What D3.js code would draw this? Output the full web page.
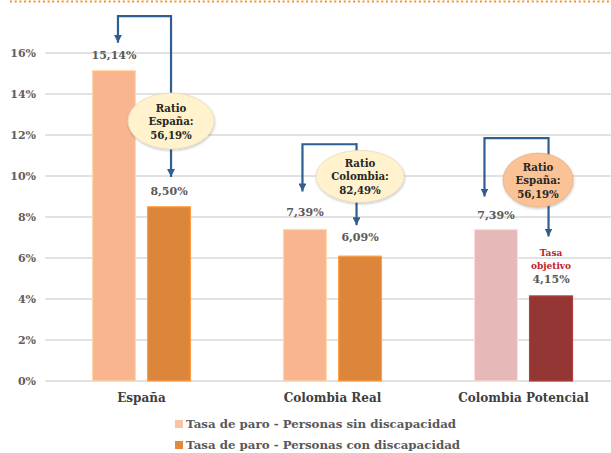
<!DOCTYPE html>
<html>
<head>
<meta charset="utf-8">
<script src="https://cdn.jsdelivr.net/npm/d3@7"></script>
<style>
  html, body { margin: 0; padding: 0; background: #fff; }
  svg { display: block; }
  svg text { font-family: "DejaVu Serif", serif; font-weight: bold; }
</style>
</head>
<body>
<svg id="chart" width="611" height="453"></svg>
<script>
// Unemployment rates, people without / with disability (%)
const categories = ["España", "Colombia Real", "Colombia Potencial"];
const sinDiscapacidad = [15.14, 7.39, 7.39];
const conDiscapacidad = [8.50, 6.09, 4.15];
const yTicks = [0, 2, 4, 6, 8, 10, 12, 14, 16];
const seriesNames = ["Tasa de paro - Personas sin discapacidad", "Tasa de paro - Personas con discapacidad"];
const colorSin = ["#F8B590", "#F8B590", "#E6B8B8"];
const colorCon = ["#DC863C", "#DC863C", "#943634"];
const legendColors = ["#F9C4A4", "#E08A3E"];
// Ratio callouts: text lines, bubble fill
const ratioLines = [["Ratio", "España:", "56,19%"], ["Ratio", "Colombia:", "82,49%"], ["Ratio", "España:", "56,19%"]];
const ratioFill = ["#FFF2CC", "#FFF2CC", "#FAC295"];
const targetLabel = ["Tasa", "objetivo"];

const fmt = v => v.toFixed(2).replace(".", ",") + "%";

const svg = d3.select("#chart");
const y = d3.scaleLinear().domain([0, 16]).range([381, 53]);
const x0 = d3.scaleBand().domain(categories).range([46, 619]);
const x1 = d3.scaleBand().domain(["sin", "con"]).range([0, 98]).paddingInner(0.22);
const groupLeft = c => x0(c) + x0.bandwidth() / 2 - 49;
const barCenter = (c, k) => groupLeft(c) + x1(k) + x1.bandwidth() / 2;

// dotted orange rule at the top
svg.append("line")
  .attr("x1", 10).attr("x2", 611).attr("y1", 1.5).attr("y2", 1.5)
  .attr("stroke", "#F39325").attr("stroke-width", 2.2)
  .attr("stroke-dasharray", "2,2.7");

// gridlines
svg.append("g").selectAll("line").data(yTicks).join("line")
  .attr("x1", 45).attr("x2", 611)
  .attr("y1", d => y(d)).attr("y2", d => y(d))
  .attr("stroke", "#D9D9D9").attr("stroke-width", 1.3);

// y axis labels
const yAxis = svg.append("g").attr("transform", "translate(36,0)")
  .call(d3.axisLeft(y).tickValues(yTicks).tickFormat(d => d + "%").tickSize(0).tickPadding(0));
yAxis.attr("font-family", null);
yAxis.select(".domain").remove();
yAxis.selectAll("text")
  .attr("font-size", 11).attr("fill", "#5F5F5F");

// bars
const rows = categories.map((c, i) => ({ c, i, sin: sinDiscapacidad[i], con: conDiscapacidad[i] }));
const bars = svg.append("g");
rows.forEach(r => {
  [["sin", r.sin, colorSin[r.i]], ["con", r.con, colorCon[r.i]]].forEach(([k, v, col]) => {
    bars.append("rect")
      .attr("x", groupLeft(r.c) + x1(k))
      .attr("width", x1.bandwidth())
      .attr("y", y(v))
      .attr("height", y(0) - y(v))
      .attr("fill", col)
      .attr("stroke", d3.color(col).brighter(0.5))
      .attr("stroke-width", 1.2);
  });
});

// value labels
const labels = svg.append("g")
  .attr("font-size", 11).attr("fill", "#595959")
  .attr("text-anchor", "middle");
const labelGap = [[12, 12], [14, 15], [11, 13]];
rows.forEach(r => {
  labels.append("text").attr("x", barCenter(r.c, "sin")).attr("y", y(r.sin) - labelGap[r.i][0]).text(fmt(r.sin));
  labels.append("text").attr("x", barCenter(r.c, "con")).attr("y", y(r.con) - labelGap[r.i][1]).text(fmt(r.con));
});

// "Tasa objetivo" note over the target bar
const tc = categories[2];
svg.append("g").attr("font-size", 9).attr("fill", "#C0202A")
  .attr("text-anchor", "middle")
  .selectAll("text").data(targetLabel).join("text")
  .attr("x", barCenter(tc, "con")).attr("y", (d, i) => 256 + i * 13).text(d => d);

// category labels
svg.append("g").attr("font-size", 12).attr("fill", "#404040")
  .attr("text-anchor", "middle")
  .selectAll("text").data(categories).join("text")
  .attr("x", c => x0(c) + x0.bandwidth() / 2).attr("y", 402).text(c => c);

// connector arrows (vertical positions in % units)
const arrowSpecs = [
  { c: 0, dxL: 4, dxR: 2, top: 17.8, tipL: 16.5, tipR: 9.95 },
  { c: 1, dxL: -2.5, dxR: -3.5, top: 11.55, tipL: 9.25, tipR: 7.6 },
  { c: 2, dxL: -11.5, dxR: -2.5, top: 11.85, tipL: 9.0, tipR: 7.05 }
];
const bubbleSpecs = [
  { c: 0, dx: 2, cy: 12.68, rx: 43, ry: 28 },
  { c: 1, dx: 0, cy: 9.98, rx: 44, ry: 26 },
  { c: 2, dx: -13, cy: 9.8, rx: 35, ry: 27 }
];
const defs = svg.append("defs");
defs.append("marker").attr("id", "head")
  .attr("viewBox", "0 0 10 10").attr("refX", 10).attr("refY", 5)
  .attr("markerWidth", 3.6).attr("markerHeight", 3.6).attr("orient", "auto")
  .append("path").attr("d", "M0,0L10,5L0,10z").attr("fill", "#2F5F8F");
const shadow = defs.append("filter").attr("id", "soft").attr("x", "-20%").attr("y", "-20%").attr("width", "140%").attr("height", "150%");
shadow.append("feDropShadow").attr("dx", 0.5).attr("dy", 1.2).attr("stdDeviation", 1.2).attr("flood-color", "#000").attr("flood-opacity", 0.25);

const arrows = svg.append("g").attr("fill", "none").attr("stroke", "#2F5F8F").attr("stroke-width", 2.2);
arrowSpecs.forEach(a => {
  const c = categories[a.c];
  const xl = barCenter(c, "sin") + a.dxL, xr = barCenter(c, "con") + a.dxR;
  arrows.append("path")
    .attr("d", `M${xr},${y(a.top)}L${xl},${y(a.top)}L${xl},${y(a.tipL)}`)
    .attr("marker-end", "url(#head)");
  arrows.append("path")
    .attr("d", `M${xr},${y(a.top) - 1.1}L${xr},${y(a.tipR)}`)
    .attr("marker-end", "url(#head)");
});

// ratio bubbles
bubbleSpecs.forEach((b, i) => {
  const c = categories[b.c];
  const cx = barCenter(c, "con") + b.dx, cy = y(b.cy);
  const g = svg.append("g");
  g.append("ellipse").attr("cx", cx).attr("cy", cy).attr("rx", b.rx).attr("ry", b.ry)
    .attr("fill", ratioFill[i]).attr("stroke", d3.color(ratioFill[i]).darker(0.25)).attr("stroke-width", 0.8)
    .attr("filter", "url(#soft)");
  g.selectAll("text").data(ratioLines[i]).join("text")
    .attr("x", cx).attr("y", (d, j) => cy + (j - 1) * 13.5 + 4)
    .attr("text-anchor", "middle").attr("font-size", 10.2).attr("fill", "#262626")
    .text(d => d);
});

// legend
const legend = svg.append("g");
seriesNames.forEach((s, i) => {
  legend.append("rect").attr("x", 175).attr("y", 420 + i * 21).attr("width", 8).attr("height", 8)
    .attr("fill", legendColors[i]);
  legend.append("text").attr("x", 186).attr("y", 428 + i * 21)
    .attr("font-size", 11.8).attr("fill", "#595959").text(s);
});
</script>
</body>
</html>
